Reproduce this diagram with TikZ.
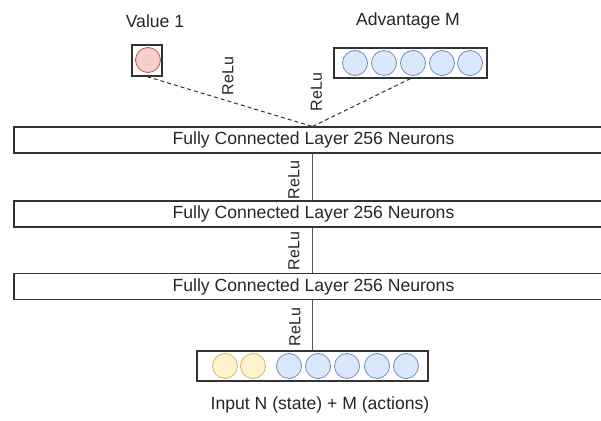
\documentclass[tikz,border=0pt]{standalone}
\usepackage{fontspec}
\setmainfont{Liberation Sans}
\begin{document}
\begin{tikzpicture}[x=1pt,y=-1pt,
  txt/.style={font=\fontsize{17.6}{20}\selectfont, text=black!85, inner sep=0pt},
  relu/.style={font=\fontsize{16}{18}\selectfont, text=black!85, inner sep=0pt, rotate=90},
  layer/.style={draw=black!80, line width=1.2pt, minimum width=599pt, minimum height=26pt, inner sep=0pt, font=\fontsize{17.6}{20}\selectfont, text=black!85},
  holder/.style={draw=black!80, line width=1.2pt, inner sep=0pt},
  redn/.style={circle, draw={rgb,255:red,184;green,84;blue,80}, fill={rgb,255:red,248;green,206;blue,204}, minimum size=25pt, inner sep=0pt, line width=0.8pt},
  bluen/.style={circle, draw={rgb,255:red,108;green,142;blue,191}, fill={rgb,255:red,218;green,232;blue,252}, minimum size=25pt, inner sep=0pt, line width=0.8pt},
  yelln/.style={circle, draw={rgb,255:red,214;green,182;blue,86}, fill={rgb,255:red,255;green,242;blue,204}, minimum size=25pt, inner sep=0pt, line width=0.8pt},
  conn/.style={draw=black!65, line width=1.2pt},
  dconn/.style={draw=black!80, line width=1pt, dash pattern=on 4pt off 3pt}
]
\useasboundingbox (0,0) rectangle (601,420);
\begin{scope}
\clip (0,0) rectangle (601,420);
% value
\node[holder, minimum width=30pt, minimum height=31pt] (val) at (147,60.5) {};
\node[redn] (v1) at (148,60) {};
\node[txt] (vlab) at (155,21) {Value 1};
% advantage
\node[holder, minimum width=153pt, minimum height=30pt] (adv) at (410.5,63) {};
\foreach \i/\xx in {1/355,2/384,3/413,4/442,5/470}
  \node[bluen] (a\i) at (\xx,63) {};
\node[txt] (alab) at (408,21) {Advantage M};
% layers
\node[layer] (fc1) at (313.5,140) {Fully Connected Layer 256 Neurons};
\node[layer] (fc2) at (313.5,214) {Fully Connected Layer 256 Neurons};
\node[layer] (fc3) at (313.5,286.5) {Fully Connected Layer 256 Neurons};
% input
\node[holder, minimum width=231pt, minimum height=30pt] (inp) at (312.5,366) {};
\foreach \i/\xx in {1/225,2/253}
  \node[yelln] (y\i) at (\xx,366) {};
\foreach \i/\xx in {1/289,2/318,3/347,4/377,5/406}
  \node[bluen] (b\i) at (\xx,366) {};
\node[txt] (ilab) at (320,405) {Input N (state) + M (actions)};
% connectors
\coordinate (j) at (312.5,126.5);
\draw[dconn] (val.south) -- (j);
\draw[dconn] (adv.south) -- (j);
\draw[conn] (fc1.south -| j) -- (fc2.north -| j);
\draw[conn] (fc2.south -| j) -- (fc3.north -| j);
\draw[conn] (fc3.south -| j) -- (inp.north -| j);
% relu labels
\node[relu] (r1) at (228,76) {ReLu};
\node[relu] (r2) at (316.5,92) {ReLu};
\node[relu] (r3) at (294,180) {ReLu};
\node[relu] (r4) at (294,251) {ReLu};
\node[relu] (r5) at (295,327) {ReLu};
\end{scope}
\end{tikzpicture}
\end{document}
